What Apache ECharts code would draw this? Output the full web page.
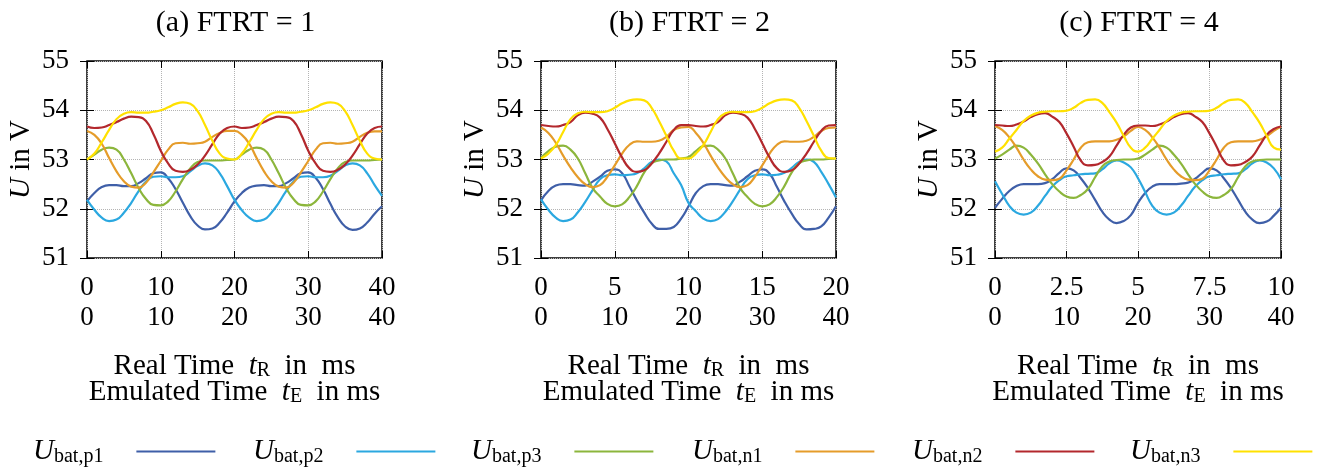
<!DOCTYPE html>
<html>
<head>
<meta charset="utf-8">
<script src="https://cdn.jsdelivr.net/npm/echarts@6/dist/echarts.min.js"></script>
<style>
  html, body { margin: 0; padding: 0; background: #fff; }
  #chart { width: 1325px; height: 471px; }
</style>
</head>
<body>
<div id="chart"></div>
<script>
// emulated time in ms
const tE = [0,1,2,3,4,5,6,7,8,9,10,11,12,13,14,15,16,17,18,19,20,21,22,23,24,25,26,27,28,29,30,31,32,33,34,35,36,37,38,39,40];

const seriesNames = ['Ubat,p1', 'Ubat,p2', 'Ubat,p3', 'Ubat,n1', 'Ubat,n2', 'Ubat,n3'];
const seriesColors = ['#3f5fa8', '#2ba8e0', '#8cb63c', '#e59c2a', '#b3282d', '#ffe100'];

const ticksEmu = [0, 10, 20, 30, 40];
const ticksRealA = [0, 10, 20, 30, 40];
const ticksRealB = [0, 5, 10, 15, 20];
const ticksRealC = [0, 2.5, 5, 7.5, 10];
const ticksU = [51, 52, 53, 54, 55];

// (a) FTRT = 1
const p1a = [52.15,52.32,52.44,52.48,52.48,52.46,52.46,52.52,52.62,52.72,52.74,52.62,52.40,52.12,51.85,51.66,51.58,51.60,51.72,51.92,52.15,52.32,52.43,52.47,52.48,52.46,52.46,52.52,52.62,52.72,52.74,52.63,52.40,52.10,51.83,51.64,51.57,51.60,51.72,51.90,52.05];
const p2a = [52.18,51.98,51.82,51.75,51.78,51.92,52.12,52.36,52.55,52.65,52.66,52.64,52.64,52.66,52.76,52.87,52.92,52.88,52.72,52.46,52.18,51.97,51.82,51.75,51.78,51.92,52.12,52.36,52.55,52.65,52.66,52.64,52.64,52.67,52.77,52.88,52.92,52.88,52.72,52.48,52.26];
const p3a = [53.00,53.10,53.20,53.24,53.20,53.00,52.72,52.42,52.20,52.08,52.07,52.15,52.35,52.60,52.82,52.95,52.98,52.98,52.98,52.99,53.00,53.10,53.20,53.24,53.20,53.00,52.72,52.42,52.20,52.08,52.07,52.15,52.35,52.60,52.82,52.95,52.98,52.98,52.98,52.99,53.00];
const n1a = [53.58,53.50,53.32,53.03,52.76,52.56,52.45,52.43,52.53,52.74,52.97,53.20,53.33,53.34,53.32,53.33,53.36,53.46,53.54,53.58,53.58,53.50,53.32,53.03,52.76,52.56,52.45,52.43,52.53,52.74,52.97,53.20,53.33,53.34,53.32,53.33,53.36,53.46,53.54,53.57,53.57];
const n2a = [53.67,53.64,53.65,53.70,53.76,53.83,53.87,53.86,53.78,53.52,53.18,52.92,52.77,52.75,52.79,52.90,53.08,53.31,53.53,53.64,53.67,53.64,53.65,53.70,53.76,53.83,53.87,53.86,53.78,53.52,53.18,52.92,52.77,52.75,52.79,52.90,53.08,53.31,53.53,53.64,53.67];
const n3a = [53.00,53.12,53.35,53.60,53.82,53.93,53.96,53.95,53.95,53.97,54.00,54.06,54.13,54.16,54.13,53.98,53.70,53.38,53.12,53.02,53.00,53.12,53.35,53.60,53.82,53.93,53.96,53.95,53.95,53.97,54.00,54.06,54.13,54.16,54.13,53.98,53.70,53.38,53.12,53.02,53.00];

// (b) FTRT = 2
const p1b = [52.17,52.36,52.47,52.50,52.50,52.48,52.47,52.55,52.65,52.77,52.80,52.72,52.45,52.17,51.92,51.70,51.59,51.59,51.63,51.80,52.05,52.32,52.46,52.50,52.50,52.48,52.47,52.55,52.66,52.77,52.80,52.71,52.44,52.15,51.90,51.69,51.58,51.59,51.64,51.82,52.05];
const p2b = [52.19,51.98,51.82,51.75,51.78,51.93,52.14,52.38,52.60,52.68,52.70,52.68,52.69,52.72,52.82,52.95,53.00,52.96,52.72,52.48,52.12,51.95,51.80,51.75,51.79,51.94,52.15,52.39,52.60,52.68,52.70,52.68,52.69,52.73,52.83,52.95,53.00,52.95,52.75,52.50,52.23];
const p3b = [53.03,53.17,53.26,53.28,53.20,53.02,52.72,52.42,52.25,52.10,52.05,52.09,52.24,52.46,52.74,52.92,52.98,53.00,53.00,53.02,53.05,53.17,53.27,53.28,53.20,53.02,52.72,52.42,52.24,52.10,52.05,52.09,52.24,52.46,52.74,52.92,52.98,53.00,53.00,53.01,53.02];
const n1b = [53.65,53.54,53.34,53.08,52.84,52.64,52.50,52.44,52.48,52.65,52.88,53.12,53.30,53.37,53.36,53.36,53.38,53.46,53.60,53.65,53.66,53.54,53.34,53.08,52.84,52.64,52.50,52.44,52.48,52.65,52.88,53.12,53.30,53.37,53.36,53.36,53.38,53.46,53.58,53.64,53.65];
const n2b = [53.70,53.68,53.67,53.70,53.76,53.90,53.95,53.93,53.85,53.62,53.33,53.04,52.82,52.75,52.78,52.92,53.12,53.36,53.60,53.70,53.70,53.68,53.67,53.70,53.76,53.90,53.95,53.93,53.85,53.62,53.33,53.04,52.82,52.75,52.78,52.92,53.12,53.36,53.58,53.69,53.70];
const n3b = [53.02,53.12,53.29,53.56,53.82,53.94,53.97,53.96,53.96,53.98,54.05,54.14,54.20,54.22,54.20,54.05,53.78,53.48,53.18,53.02,53.02,53.12,53.29,53.56,53.82,53.94,53.97,53.96,53.96,53.98,54.05,54.14,54.20,54.22,54.20,54.05,53.78,53.48,53.18,53.03,53.02];

// (c) FTRT = 4
const p1c = [52.02,52.20,52.36,52.46,52.50,52.50,52.50,52.52,52.60,52.73,52.82,52.78,52.62,52.42,52.18,51.94,51.78,51.71,51.75,51.87,52.12,52.32,52.45,52.50,52.50,52.50,52.51,52.53,52.61,52.73,52.82,52.78,52.62,52.42,52.18,51.94,51.78,51.71,51.74,51.86,52.02];
const p2c = [52.56,52.30,52.06,51.92,51.88,51.92,52.06,52.26,52.45,52.58,52.66,52.68,52.70,52.71,52.72,52.80,52.92,52.98,52.94,52.84,52.62,52.34,52.06,51.92,51.88,51.92,52.06,52.26,52.45,52.58,52.66,52.68,52.70,52.71,52.72,52.80,52.92,52.98,52.94,52.82,52.60];
const p3c = [53.02,53.10,53.20,53.28,53.24,53.10,52.92,52.70,52.50,52.35,52.25,52.22,52.28,52.40,52.64,52.86,52.96,52.99,53.00,53.00,53.02,53.10,53.20,53.28,53.24,53.10,52.92,52.70,52.50,52.35,52.25,52.22,52.28,52.40,52.64,52.86,52.96,52.99,53.00,53.00,53.00];
const n1c = [53.68,53.60,53.45,53.24,53.00,52.80,52.66,52.59,52.58,52.61,52.78,53.00,53.24,53.35,53.37,53.37,53.37,53.40,53.47,53.58,53.66,53.60,53.45,53.24,53.00,52.80,52.66,52.59,52.58,52.61,52.78,53.00,53.24,53.35,53.37,53.37,53.37,53.40,53.47,53.58,53.67];
const n2c = [53.70,53.69,53.68,53.71,53.77,53.86,53.92,53.94,53.87,53.76,53.53,53.26,52.98,52.88,52.89,52.95,53.06,53.28,53.50,53.65,53.69,53.69,53.68,53.71,53.77,53.86,53.92,53.94,53.87,53.76,53.53,53.26,52.98,52.88,52.89,52.95,53.06,53.28,53.50,53.62,53.67];
const n3c = [53.16,53.24,53.42,53.60,53.78,53.89,53.95,53.97,53.98,53.98,53.99,54.05,54.15,54.21,54.22,54.15,53.96,53.75,53.48,53.24,53.16,53.24,53.42,53.60,53.78,53.89,53.95,53.97,53.98,53.98,53.99,54.05,54.15,54.21,54.22,54.15,53.96,53.75,53.48,53.24,53.20];

const serif = 'Liberation Serif, Times New Roman, serif';
const txt = { fontFamily: serif, color: '#000' };

const panels = [
    { title: '(a) FTRT = 1', left: 87,  width: 295, real: ticksRealA, values: [p1a, p2a, p3a, n1a, n2a, n3a] },
    { title: '(b) FTRT = 2', left: 541, width: 295, real: ticksRealB, values: [p1b, p2b, p3b, n1b, n2b, n3b] },
    { title: '(c) FTRT = 4', left: 995, width: 286, real: ticksRealC, values: [p1c, p2c, p3c, n1c, n2c, n3c] }
];

const nameRich = {
    n: { ...txt, fontSize: 29, lineHeight: 30 },
    i: { ...txt, fontSize: 29, lineHeight: 30, fontStyle: 'italic' },
    s: { ...txt, fontSize: 20, lineHeight: 12, verticalAlign: 'bottom' }
};

const grid = [], xAxis = [], yAxis = [], series = [], title = [];

panels.forEach((p, k) => {
    grid.push({ left: p.left, top: 61, width: p.width, height: 197, show: true, borderColor: '#000', borderWidth: 1.5 });
    title.push({
        text: p.title, left: p.left + p.width / 2 - 4, top: 3, textAlign: 'center',
        textStyle: { ...txt, fontSize: 30, fontWeight: 'normal' }
    });
    const tick = { inside: true, length: 7, lineStyle: { color: '#000', width: 1 } };
    // emulated time (data axis, second label row)
    xAxis.push({
        gridIndex: k, type: 'value', position: 'bottom',
        min: ticksEmu[0], max: ticksEmu[ticksEmu.length - 1], interval: ticksEmu[1] - ticksEmu[0],
        axisLine: { show: false }, axisTick: tick,
        axisLabel: { ...txt, fontSize: 27, margin: 46 },
        splitLine: { show: true, lineStyle: { type: 'dotted', color: '#b4b4b4', width: 1 } },
        name: '{n|Emulated Time  }{i|t}{s|E}{n|  in ms}', nameLocation: 'middle', nameGap: 119,
        nameTextStyle: { rich: nameRich }
    });
    // real time (labels only, first row)
    xAxis.push({
        gridIndex: k, type: 'value', position: 'bottom',
        min: p.real[0], max: p.real[p.real.length - 1], interval: p.real[1] - p.real[0],
        axisLine: { show: false }, axisTick: { show: false }, splitLine: { show: false },
        axisLabel: { ...txt, fontSize: 27, margin: 16 },
        name: '{n|Real Time  }{i|t}{s|R}{n|  in  ms}', nameLocation: 'middle', nameGap: 93,
        nameTextStyle: { rich: nameRich }
    });
    // top ticks
    xAxis.push({
        gridIndex: k, type: 'value', position: 'top',
        min: ticksEmu[0], max: ticksEmu[ticksEmu.length - 1], interval: ticksEmu[1] - ticksEmu[0],
        axisLine: { show: false }, axisTick: tick, axisLabel: { show: false }, splitLine: { show: false }
    });
    yAxis.push({
        gridIndex: k, type: 'value', position: 'left',
        min: ticksU[0], max: ticksU[ticksU.length - 1], interval: ticksU[1] - ticksU[0],
        axisLine: { show: false }, axisTick: tick,
        axisLabel: { ...txt, fontSize: 27, margin: 18 },
        splitLine: { show: true, lineStyle: { type: 'dotted', color: '#b4b4b4', width: 1 } },
        name: '{i|U}{n| in V}', nameLocation: 'middle', nameGap: 51,
        nameTextStyle: { rich: nameRich }
    });
    yAxis.push({
        gridIndex: k, type: 'value', position: 'right',
        min: ticksU[0], max: ticksU[ticksU.length - 1], interval: ticksU[1] - ticksU[0],
        axisLine: { show: false }, axisTick: tick, axisLabel: { show: false }, splitLine: { show: false }
    });
    p.values.forEach((vals, j) => {
        series.push({
            name: seriesNames[j], type: 'line', xAxisIndex: 3 * k, yAxisIndex: 2 * k,
            data: tE.map((t, i) => [t, vals[i]]),
            smooth: true, showSymbol: false, symbol: 'none',
            lineStyle: { color: seriesColors[j], width: 2.2 },
            itemStyle: { color: seriesColors[j] }
        });
    });
});

const legendLeft = [33, 253, 471, 692, 912, 1130];
const legend = seriesNames.map((name, j) => ({
    data: [name], left: legendLeft[j], top: 437, padding: 0, align: 'right',
    icon: 'rect', itemWidth: 79, itemHeight: 2,
    formatter: n => '{i|U}{s|' + n.slice(1) + '}',
    textStyle: {
        rich: {
            i: { ...txt, fontSize: 29, lineHeight: 30, fontStyle: 'italic' },
            s: { ...txt, fontSize: 20, lineHeight: 12, verticalAlign: 'bottom', padding: [0, 28, 0, 0] }
        }
    },
    selectedMode: false
}));

const chart = echarts.init(document.getElementById('chart'));
chart.setOption({
    animation: false,
    backgroundColor: '#fff',
    title, grid, xAxis, yAxis, series, legend
});
</script>
</body>
</html>
